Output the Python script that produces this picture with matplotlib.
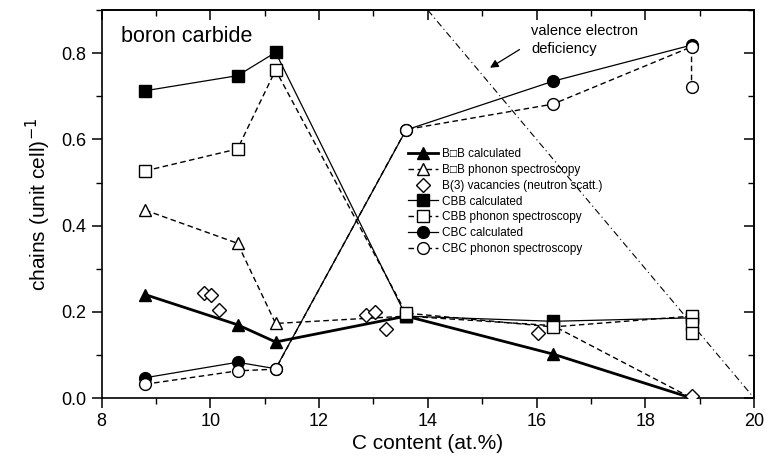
import matplotlib
matplotlib.use("Agg")
import matplotlib.pyplot as plt
from matplotlib.ticker import MultipleLocator

plt.rcParams['font.family'] = ['Liberation Sans', 'DejaVu Sans']

# B-[]-B chains
bb_calc_x = [8.8, 10.5, 11.2, 13.6, 16.3, 18.85]
bb_calc_y = [0.24, 0.17, 0.13, 0.19, 0.102, 0.0]
bb_phon_x = [8.8, 10.5, 11.2, 13.6, 16.3, 18.85]
bb_phon_y = [0.436, 0.359, 0.173, 0.19, 0.168, 0.0]
# B(3) vacancies from neutron scattering
vac_x = [9.88, 10.02, 10.16, 12.87, 13.02, 13.23, 16.03, 18.85]
vac_y = [0.244, 0.239, 0.204, 0.193, 0.2, 0.16, 0.15, 0.005]
# CBB chains
cbb_calc_x = [8.8, 10.5, 11.2, 13.6, 16.3, 18.85]
cbb_calc_y = [0.713, 0.748, 0.802, 0.19, 0.178, 0.186]
cbb_phon_x = [8.8, 10.5, 11.2, 13.6, 16.3, 18.85, 18.85, 18.85]
cbb_phon_y = [0.527, 0.578, 0.761, 0.197, 0.165, 0.19, 0.171, 0.152]
# CBC chains
cbc_calc_x = [8.8, 10.5, 11.2, 13.6, 16.3, 18.85]
cbc_calc_y = [0.047, 0.083, 0.068, 0.622, 0.735, 0.819]
cbc_phon_x = [8.8, 10.5, 11.2, 13.6, 16.3, 18.85, 18.85]
cbc_phon_y = [0.032, 0.063, 0.067, 0.623, 0.682, 0.815, 0.721]
# valence electron deficiency limit
ved_x = [14.0, 20.0]
ved_y = [0.9, 0.0]

fig = plt.figure(figsize=(7.64, 4.62), dpi=100)
ax = fig.add_axes([0.133, 0.1385, 0.854, 0.8395])

dash = (0, (4, 2.5))
ax.plot(bb_calc_x, bb_calc_y, '-', color='k', lw=2.0, marker='^', ms=9,
        mfc='k', mec='k', label='B\u25a1B calculated', zorder=3)
ax.plot(bb_phon_x, bb_phon_y, color='k', lw=1.0, ls=dash, marker='^', ms=9,
        mfc='white', mec='k', label='B\u25a1B phonon spectroscopy', zorder=3)
ax.plot(vac_x, vac_y, ls='none', marker='D', ms=7, mfc='white', mec='k',
        mew=1.0, label='B(3) vacancies (neutron scatt.)', zorder=4)
ax.plot(cbb_calc_x, cbb_calc_y, '-', color='k', lw=0.9, marker='s', ms=8,
        mfc='k', mec='k', label='CBB calculated', zorder=3)
ax.plot(cbb_phon_x, cbb_phon_y, color='k', lw=1.0, ls=dash, marker='s', ms=8,
        mfc='white', mec='k', label='CBB phonon spectroscopy', zorder=3)
ax.plot(cbc_calc_x, cbc_calc_y, '-', color='k', lw=0.9, marker='o', ms=8.5,
        mfc='k', mec='k', label='CBC calculated', zorder=3)
ax.plot(cbc_phon_x, cbc_phon_y, color='k', lw=1.0, ls=dash, marker='o', ms=8.5,
        mfc='white', mec='k', label='CBC phonon spectroscopy', zorder=3)

ax.plot(ved_x, ved_y, color='k', lw=0.8, ls=(0, (6, 3, 1, 3)), zorder=2)
ax.annotate('', xy=(15.1, 0.763), xytext=(15.73, 0.812),
            arrowprops=dict(arrowstyle='-|>', color='k', lw=0.9,
                            mutation_scale=12))
ax.text(15.9, 0.868, 'valence electron\ndeficiency', fontsize=10.5,
        ha='left', va='top', linespacing=1.4)
ax.text(8.35, 0.838, 'boron carbide', fontsize=15.5, ha='left', va='center')

ax.set_xlim(8, 20)
ax.set_ylim(0, 0.9)
ax.xaxis.set_major_locator(MultipleLocator(2))
ax.xaxis.set_minor_locator(MultipleLocator(1))
ax.yaxis.set_major_locator(MultipleLocator(0.2))
ax.yaxis.set_minor_locator(MultipleLocator(0.1))
ax.yaxis.set_major_formatter(plt.FormatStrFormatter('%.1f'))
ax.tick_params(which='major', direction='out', length=7, width=1.1,
               labelsize=13, pad=4)
ax.tick_params(which='minor', direction='out', length=4, width=1.0)

top = ax.secondary_xaxis('top')
top.xaxis.set_major_locator(MultipleLocator(2))
top.xaxis.set_minor_locator(MultipleLocator(1))
top.tick_params(which='major', direction='in', length=7, width=1.1, labeltop=False)
top.tick_params(which='minor', direction='in', length=4, width=1.0)
right = ax.secondary_yaxis('right')
right.yaxis.set_major_locator(MultipleLocator(0.2))
right.yaxis.set_minor_locator(MultipleLocator(0.1))
right.tick_params(which='major', direction='in', length=7, width=1.1, labelright=False)
right.tick_params(which='minor', direction='in', length=4, width=1.0)

for sp in ax.spines.values():
    sp.set_linewidth(1.2)
top.spines['top'].set_linewidth(1.2)
right.spines['right'].set_linewidth(1.2)

ax.set_xlabel('C content (at.%)', fontsize=15, labelpad=3)
ax.set_ylabel('chains (unit cell)$^{-1}$', fontsize=15, labelpad=6)

ax.legend(loc='upper left', bbox_to_anchor=(0.47, 0.645), frameon=False,
          fontsize=8.5, handlelength=2.5, handletextpad=0.35, labelspacing=0.33,
          borderpad=0, borderaxespad=0)

fig.savefig('out.png', dpi=100)
